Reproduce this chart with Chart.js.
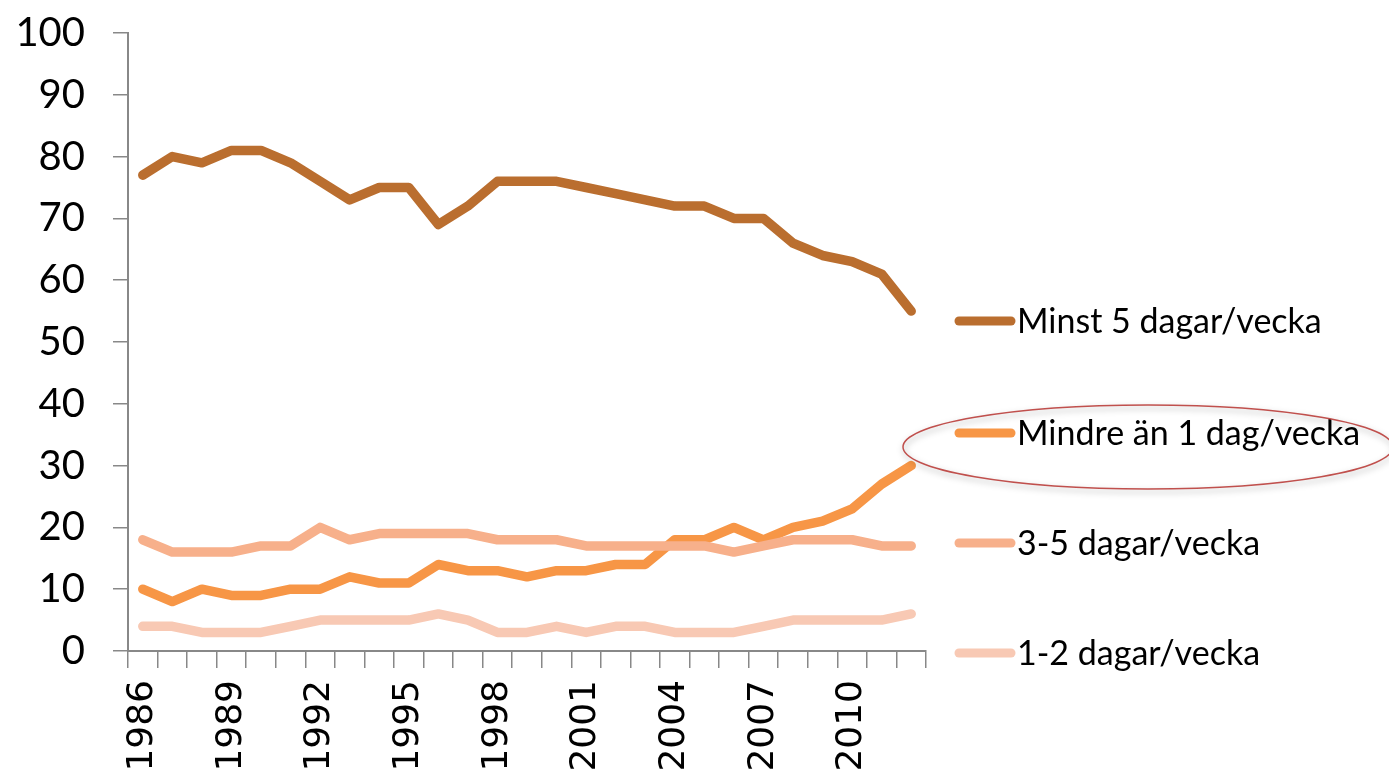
<!DOCTYPE html>
<html>
<head>
<meta charset="utf-8">
<script src="https://cdn.jsdelivr.net/npm/chart.js@4/dist/chart.umd.min.js"></script>
<style>
  html, body { margin: 0; padding: 0; background: #fff; }
  #wrap { width: 1389px; height: 777px; position: relative; }
</style>
</head>
<body>
<div id="wrap"><canvas id="chartDagar"></canvas></div>
<script>
// år 1986-2012
const years = ['1986','1987','1988','1989','1990','1991','1992','1993','1994','1995','1996','1997','1998','1999',
               '2000','2001','2002','2003','2004','2005','2006','2007','2008','2009','2010','2011','2012'];

const minst5   = [77, 80, 79, 81, 81, 79, 76, 73, 75, 75, 69, 72, 76, 76, 76, 75, 74, 73, 72, 72, 70, 70, 66, 64, 63, 61, 55];
const mindre1  = [10, 8, 10, 9, 9, 10, 10, 12, 11, 11, 14, 13, 13, 12, 13, 13, 14, 14, 18, 18, 20, 18, 20, 21, 23, 27, 30];
const dagar3_5 = [18, 16, 16, 16, 17, 17, 20, 18, 19, 19, 19, 19, 18, 18, 18, 17, 17, 17, 17, 17, 16, 17, 18, 18, 18, 17, 17];
const dagar1_2 = [4, 4, 3, 3, 3, 4, 5, 5, 5, 5, 6, 5, 3, 3, 4, 3, 4, 4, 3, 3, 3, 4, 5, 5, 5, 5, 6];

const seriesNames = ['Minst 5 dagar/vecka', 'Mindre än 1 dag/vecka', '3-5 dagar/vecka', '1-2 dagar/vecka'];
const colores = ['#BA6E2F', '#F79646', '#F7B08B', '#F8C9B4'];

const axisGray = '#888888';

// leyenda dibujada a mano (posiciones como en la imagen) + la elipse roja
const legendPlugin = {
    id: 'legendaDerecha',
    afterDraw(chart) {
        const ctx = chart.ctx;
        const ys = [321, 433, 543, 653];
        ctx.save();
        chart.data.datasets.forEach(function (ds, i) {
            ctx.strokeStyle = ds.borderColor;
            ctx.lineWidth = 9;
            ctx.lineCap = 'round';
            ctx.beginPath();
            ctx.moveTo(959, ys[i]);
            ctx.lineTo(1011, ys[i]);
            ctx.stroke();
            ctx.fillStyle = '#000';
            ctx.font = '34px Lato';
            ctx.textBaseline = 'middle';
            ctx.textAlign = 'left';
            ctx.fillText(ds.label, 1017, ys[i] + 1);
        });
        // elipse
        ctx.shadowColor = 'rgba(0,0,0,0.35)';
        ctx.shadowBlur = 6;
        ctx.shadowOffsetX = 1;
        ctx.shadowOffsetY = 3;
        ctx.strokeStyle = '#C0504D';
        ctx.lineWidth = 1.5;
        ctx.beginPath();
        ctx.ellipse(1148, 447, 245, 42, 0, 0, Math.PI * 2);
        ctx.stroke();
        ctx.restore();
    }
};

const dataSeries = [minst5, mindre1, dagar3_5, dagar1_2];
const ordenes = [3, 2, 1, 0];

new Chart(document.getElementById('chartDagar'), {
    type: 'line',
    data: {
        labels: years,
        datasets: dataSeries.map(function (d, i) {
            return {
                label: seriesNames[i],
                data: d,
                borderColor: colores[i],
                backgroundColor: colores[i],
                borderWidth: 9.5,
                borderCapStyle: 'round',
                borderJoinStyle: 'round',
                pointRadius: 0,
                tension: 0,
                order: ordenes[i]
            };
        })
    },
    options: {
        responsive: true,
        maintainAspectRatio: false,
        animation: false,
        layout: { padding: { top: 33, right: 463, left: 0, bottom: 0 } },
        plugins: {
            legend: { display: false },
            tooltip: { enabled: false }
        },
        scales: {
            x: {
                offset: true,
                afterFit: function (s) { s.height = 126; s.paddingLeft = 0; s.paddingRight = 0; },
                grid: {
                    offset: true,
                    drawOnChartArea: false,
                    drawTicks: true,
                    tickLength: 17,
                    color: axisGray,
                    lineWidth: 1.5
                },
                border: { color: axisGray, width: 2 },
                ticks: {
                    autoSkip: false,
                    maxRotation: 90,
                    minRotation: 90,
                    padding: 12,
                    color: '#000',
                    font: { family: 'DejaVu Sans', size: 36 },
                    callback: function (val, idx) {
                        return idx % 3 === 0 ? years[idx] : '';
                    }
                }
            },
            y: {
                min: 0,
                max: 100,
                afterFit: function (s) { s.width = 128; s.paddingTop = 0; s.paddingBottom = 0; },
                grid: {
                    drawOnChartArea: false,
                    drawTicks: true,
                    tickLength: 15,
                    color: axisGray,
                    lineWidth: 1.5
                },
                border: { color: axisGray, width: 2 },
                ticks: {
                    stepSize: 10,
                    padding: 28,
                    color: '#000',
                    font: { family: 'Lato', size: 40 }
                }
            }
        }
    },
    plugins: [legendPlugin]
});
</script>
</body>
</html>
